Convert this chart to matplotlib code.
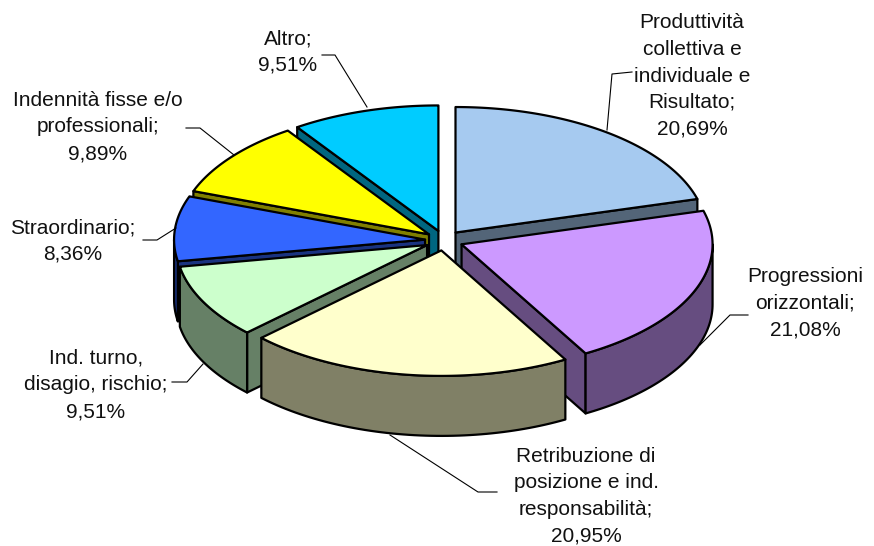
import numpy as np
import matplotlib
matplotlib.use("Agg")
import matplotlib.pyplot as plt
from matplotlib.colors import to_rgb
from matplotlib.patches import Polygon

plt.rcParams['font.family'] = ['Liberation Sans', 'DejaVu Sans']

# data, clockwise from 12 o'clock
names = ["Produttività\ncollettiva e\nindividuale e\nRisultato;", "Progressioni\norizzontali;",
         "Retribuzione di\nposizione e ind.\nresponsabilità;", "Ind. turno,\ndisagio, rischio;",
         "Straordinario;", "Indennità fisse e/o\nprofessionali;", "Altro;"]
values = [20.69, 21.08, 20.95, 9.51, 8.36, 9.89, 9.51]
colors = ["#A6CAF0", "#CC99FF", "#FFFFCC", "#CCFFCC", "#3366FF", "#FFFF00", "#00CCFF"]

# pie geometry in pixels
cx, cy = 444, 240.5
a, b = 251, 125.5
ex, ey = 19, 10
depth = 60
lw = 1.6

# label centres and leader lines
label_pos = [(692, 76), (805, 303), (586, 496), (96, 385), (73, 241), (98, 127), (288, 52)]
leaders = [[(607, 130), (612, 74), (632, 72)], [(700, 345), (730, 315), (748, 315)],
           [(390, 435), (478, 492), (497, 492)], [(203, 364), (187, 382), (172, 382)],
           [(176, 228), (157, 240), (143, 240)], [(234, 155), (200, 128), (186, 128)],
           [(367, 107), (335, 55), (322, 55)]]

fig = plt.figure(figsize=(8.74, 5.46), dpi=100)
ax = fig.add_axes([0, 0, 1, 1])
ax.set_xlim(0, 874)
ax.set_ylim(546, 0)
ax.axis("off")


def rim(ox, oy, t):
    return np.column_stack([ox + a * np.sin(t), oy - b * np.cos(t)])


def draw_slice(ox, oy, t0, t1, col):
    side = tuple(c * 0.5 for c in to_rgb(col))
    # cut faces turned to the viewer
    for t, normal in ((t0, t0 - np.pi / 2), (t1, t1 + np.pi / 2)):
        if np.cos(normal) < 0:
            p = rim(ox, oy, np.array([t]))[0]
            ax.add_patch(Polygon([(ox, oy), p, (p[0], p[1] + depth), (ox, oy + depth)],
                                 fc=side, ec="black", lw=lw, joinstyle="round"))
    # outer wall, front half only
    w0, w1 = max(t0, np.pi / 2), min(t1, 3 * np.pi / 2)
    if w1 > w0:
        up = rim(ox, oy, np.linspace(w0, w1, 60))
        down = up[::-1] + [0, depth]
        ax.add_patch(Polygon(np.vstack([up, down]), fc=side, ec="black", lw=lw, joinstyle="round"))
    # top
    arc = rim(ox, oy, np.linspace(t0, t1, 120))
    ax.add_patch(Polygon(np.vstack([[(ox, oy)], arc]), fc=col, ec="black", lw=lw, joinstyle="round"))


edges = np.cumsum([0] + values) / np.sum(values) * 2 * np.pi
mids = (edges[:-1] + edges[1:]) / 2

# back slices first
for i in np.argsort(-np.cos(mids)):
    ox = cx + ex * np.sin(mids[i])
    oy = cy - ey * np.cos(mids[i])
    draw_slice(ox, oy, edges[i], edges[i + 1], colors[i])

for name, v, pos, line in zip(names, values, label_pos, leaders):
    ax.plot(*zip(*line), color="black", lw=0.8)
    txt = name + "\n" + f"{v:.2f}".replace(".", ",") + "%"
    ax.text(pos[0], pos[1], txt, ha="center", va="center", fontsize=15, linespacing=1.5,
            color="#111111")

fig.savefig("out.png", dpi=100)
